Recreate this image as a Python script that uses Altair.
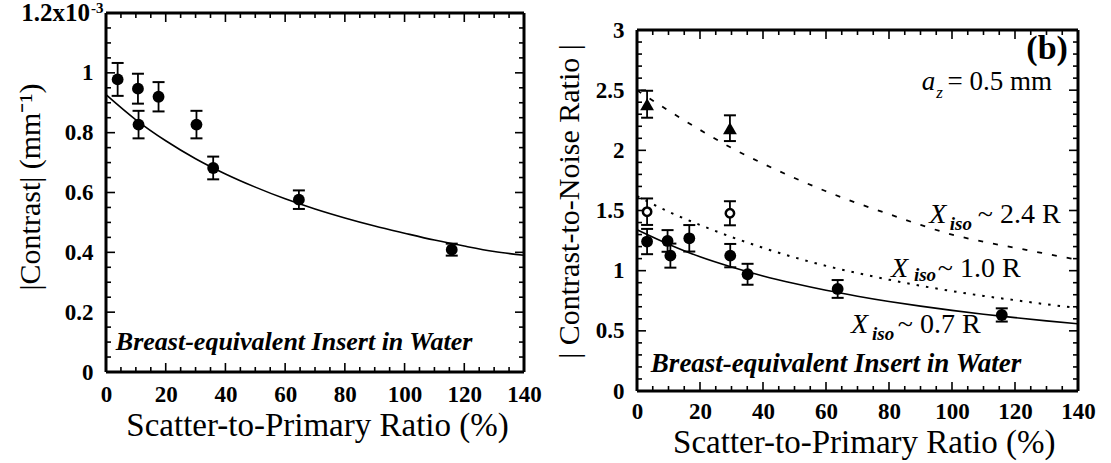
import altair as alt
import pandas as pd

FONT = "Liberation Serif"

# ---------------- panel (a): |Contrast| ----------------
a_spr = [3.9, 10.7, 10.9, 17.6, 30.3, 35.9, 64.6, 115.8]
a_con = [0.978, 0.947, 0.827, 0.920, 0.827, 0.682, 0.576, 0.409]
a_err = [0.055, 0.050, 0.046, 0.049, 0.046, 0.038, 0.031, 0.020]
fit_spr = [0, 10, 20, 30, 40, 50, 60, 70, 80, 90, 100, 110, 120, 130, 140]
a_fit = [0.927, 0.843, 0.773, 0.713, 0.662, 0.618, 0.579, 0.545, 0.515,
         0.488, 0.464, 0.441, 0.421, 0.403, 0.390]

# ---------------- panel (b): |CNR| ----------------
b07_spr = [3.2, 9.7, 10.6, 16.6, 29.6, 35.1, 63.7, 115.8]
b07_cnr = [1.242, 1.247, 1.125, 1.269, 1.125, 0.970, 0.848, 0.632]
b07_err = [0.105, 0.090, 0.100, 0.110, 0.097, 0.087, 0.074, 0.055]
b10_spr = [3.2, 29.5]
b10_cnr = [1.490, 1.477]
b10_err = [0.110, 0.100]
b24_spr = [3.2, 29.5]
b24_cnr = [2.383, 2.184]
b24_err = [0.112, 0.107]
b07_fit = [1.340, 1.220, 1.115, 1.030, 0.956, 0.893, 0.837, 0.788, 0.744,
           0.705, 0.670, 0.638, 0.610, 0.583, 0.558]
b10_fit = [1.620, 1.490, 1.380, 1.280, 1.190, 1.110, 1.040, 0.980, 0.925,
           0.875, 0.830, 0.790, 0.755, 0.720, 0.690]
b24_fit = [2.500, 2.330, 2.170, 2.020, 1.890, 1.770, 1.660, 1.560, 1.470,
           1.380, 1.300, 1.240, 1.190, 1.140, 1.090]

# ---------------- axes ----------------
x_dom = [0, 140]
x_major = [0, 20, 40, 60, 80, 100, 120, 140]
x_minor = [v for v in range(0, 141, 5) if v % 20]
a_ydom = [0, 1.2]
a_ymajor = [0, 0.2, 0.4, 0.6, 0.8, 1.0, 1.2]
a_ylabels = [0, 0.2, 0.4, 0.6, 0.8, 1.0]
a_yminor = [round(i * 0.05, 2) for i in range(25) if i % 4]
b_ydom = [0, 3]
b_ymajor = [0, 0.5, 1, 1.5, 2, 2.5, 3]
b_yminor = [round(i * 0.1, 1) for i in range(31) if i % 5]

A_W, A_H = 418, 359
B_W, B_H = 441, 378
B_YRANGE = [378, 17]


def make_x(title_x, title_y, label_pad):
    return alt.X(
        "x:Q",
        scale=alt.Scale(domain=x_dom, nice=False, zero=False),
        axis=alt.Axis(
            values=x_major, format="d", ticks=False, domain=False, grid=False,
            labelFont=FONT, labelFontSize=23, labelFontWeight="bold",
            labelColor="black", labelPadding=label_pad,
            labelBaseline="alphabetic", labelFlush=False, labelOverlap=False,
            title="Scatter-to-Primary Ratio (%)", titleFont=FONT,
            titleFontSize=33, titleFontWeight="normal", titleColor="black",
            titleX=title_x, titleY=title_y, titleBaseline="alphabetic",
            titleAlign="center",
        ),
    )


def make_y(dom, rng, labels, title, title_x, title_y):
    sc = alt.Scale(domain=dom, nice=False, zero=False) if rng is None else \
        alt.Scale(domain=dom, range=rng, nice=False, zero=False)
    return alt.Y(
        "y:Q",
        scale=sc,
        axis=alt.Axis(
            values=labels, format="~r", ticks=False, domain=False, grid=False,
            labelFont=FONT, labelFontSize=23, labelFontWeight="bold",
            labelColor="black", labelPadding=13, labelFlush=False,
            labelOverlap=False,
            title=title, titleFont=FONT, titleFontSize=30,
            titleFontWeight="normal", titleColor="black",
            titleX=title_x, titleY=title_y, titleBaseline="alphabetic",
            titleAlign="center", titleAngle=270,
        ),
    )


def frame_and_ticks(X, Y, ydom, xmaj, xmin, ymaj, ymin):
    layers = []
    fr = pd.DataFrame({
        "x": [x_dom[0], x_dom[0], x_dom[0], x_dom[1]],
        "x2": [x_dom[1], x_dom[1], x_dom[0], x_dom[1]],
        "y": [ydom[0], ydom[1], ydom[0], ydom[0]],
        "y2": [ydom[0], ydom[1], ydom[1], ydom[1]],
    })
    layers.append(alt.Chart(fr).mark_rule(color="black", strokeWidth=3).encode(
        x=X, x2=alt.X2("x2"), y=Y, y2=alt.Y2("y2")))
    for vals, L in ((xmaj, 9), (xmin, 5)):
        for yv, off in ((ydom[0], -L / 2), (ydom[1], L / 2)):
            df = pd.DataFrame({"x": vals, "y": [yv] * len(vals)})
            layers.append(alt.Chart(df).mark_tick(
                orient="vertical", size=L, thickness=1.6, yOffset=off,
                color="black", opacity=1).encode(x=X, y=Y))
    for vals, L in ((ymaj, 9), (ymin, 5)):
        for xv, off in ((x_dom[0], L / 2), (x_dom[1], -L / 2)):
            df = pd.DataFrame({"x": [xv] * len(vals), "y": vals})
            layers.append(alt.Chart(df).mark_tick(
                orient="horizontal", size=L, thickness=1.6, xOffset=off,
                color="black", opacity=1).encode(x=X, y=Y))
    return layers


def errorbars(X, Y, xs, ys, es):
    df = pd.DataFrame({"x": xs, "y": [a - e for a, e in zip(ys, es)],
                       "y2": [a + e for a, e in zip(ys, es)]})
    lo = pd.DataFrame({"x": xs, "y": df["y"]})
    hi = pd.DataFrame({"x": xs, "y": df["y2"]})
    out = [alt.Chart(df).mark_rule(color="black", strokeWidth=1.8).encode(
        x=X, y=Y, y2=alt.Y2("y2"))]
    for d in (lo, hi):
        out.append(alt.Chart(d).mark_tick(orient="horizontal", size=12,
                                          thickness=2, color="black",
                                          opacity=1).encode(x=X, y=Y))
    return out


def text(X, Y, t, x, y, size, style="normal", weight="normal", align="left",
         dx=0, dy=0):
    df = pd.DataFrame({"x": [x], "y": [y], "t": [t]})
    return alt.Chart(df).mark_text(
        font=FONT, fontSize=size, fontStyle=style, fontWeight=weight,
        align=align, baseline="alphabetic", color="black", dx=dx, dy=dy
    ).encode(x=X, y=Y, text="t:N")


# ---------------- left panel ----------------
XA = make_x(211, 63.5, 29.5)
YA = make_y(a_ydom, None, a_ylabels, "|Contrast| (mm\u207b\u00b9)", -67, 173.5)

la = frame_and_ticks(XA, YA, a_ydom, x_major, x_minor, a_ymajor, a_yminor)
la.append(alt.Chart(pd.DataFrame({"x": fit_spr, "y": a_fit})).mark_line(
    color="black", strokeWidth=1.6, interpolate="monotone").encode(x=XA, y=YA))
la += errorbars(XA, YA, a_spr, a_con, a_err)
la.append(alt.Chart(pd.DataFrame({"x": a_spr, "y": a_con})).mark_circle(
    color="black", opacity=1, size=140).encode(x=XA, y=YA))
la.append(text(XA, YA, "Breast-equivalent Insert in Water", 3.3, 0.075, 26,
               "italic", "bold"))
la.append(text(XA, YA, "1.2x10", 0, 1.2, 25, "normal", "bold", "right",
               dx=-16, dy=8))
la.append(text(XA, YA, "-3", 0, 1.2, 15, "normal", "bold", "left",
               dx=-15, dy=0))
left = alt.layer(*la).properties(width=A_W, height=A_H)

# ---------------- right panel ----------------
XB = make_x(226.8, 61.5, 27.5)
YB = make_y(b_ydom, B_YRANGE, b_ymajor, "| Contrast-to-Noise Ratio |", -59, 188)

lb = frame_and_ticks(XB, YB, b_ydom, x_major, x_minor, b_ymajor, b_yminor)
lb.append(alt.Chart(pd.DataFrame({"x": fit_spr, "y": b07_fit})).mark_line(
    color="black", strokeWidth=1.6, interpolate="monotone").encode(x=XB, y=YB))
lb.append(alt.Chart(pd.DataFrame({"x": fit_spr, "y": b10_fit})).mark_line(
    color="black", strokeWidth=2, strokeDash=[2.5, 7],
    interpolate="monotone").encode(x=XB, y=YB))
lb.append(alt.Chart(pd.DataFrame({"x": fit_spr, "y": b24_fit})).mark_line(
    color="black", strokeWidth=1.8, strokeDash=[5, 10],
    interpolate="monotone").encode(x=XB, y=YB))
lb += errorbars(XB, YB, b07_spr, b07_cnr, b07_err)
lb += errorbars(XB, YB, b10_spr, b10_cnr, b10_err)
lb += errorbars(XB, YB, b24_spr, b24_cnr, b24_err)
lb.append(alt.Chart(pd.DataFrame({"x": b07_spr, "y": b07_cnr})).mark_circle(
    color="black", opacity=1, size=140).encode(x=XB, y=YB))
lb.append(alt.Chart(pd.DataFrame({"x": b10_spr, "y": b10_cnr})).mark_point(
    shape="circle", filled=False, fill="white", fillOpacity=1, stroke="black",
    strokeWidth=2.5, opacity=1, size=70).encode(x=XB, y=YB))
lb.append(alt.Chart(pd.DataFrame({"x": b24_spr, "y": b24_cnr})).mark_point(
    shape="triangle-up", filled=True, color="black", opacity=1,
    size=190).encode(x=XB, y=YB))

lb.append(text(XB, YB, "Breast-equivalent Insert in Water", 4.4, 0.161, 27,
               "italic", "bold"))
lb.append(text(XB, YB, "(b)", 136.8, 2.76, 34, "normal", "bold", "right"))
lb.append(text(XB, YB, "a", 90.4, 2.504, 27, "italic"))
lb.append(text(XB, YB, "z", 95.0, 2.435, 17, "italic"))
lb.append(text(XB, YB, "= 0.5 mm", 98.6, 2.504, 27))

iso_labels = [("~ 2.4 R", 92.8, 99.3, 108.2, 1.394, 1.338),
              ("~ 1.0 R", 80.6, 87.9, 95.5, 0.951, 0.912),
              ("~ 0.7 R", 67.9, 74.6, 82.8, 0.480, 0.424)]
for t, xX, xi, xr, yb, ys in iso_labels:
    lb.append(text(XB, YB, "X", xX, yb, 28, "italic"))
    lb.append(text(XB, YB, "iso", xi, ys, 19, "italic", "bold"))
    lb.append(text(XB, YB, t, xr, yb, 28))

right = alt.layer(*lb).properties(width=B_W, height=B_H)

chart = alt.hconcat(left, right, spacing=113, bounds="flush").configure_view(
    stroke="transparent").properties(
    padding={"left": 14, "top": 0, "right": 5, "bottom": 5},
    background="white")

chart.save("out.html", embed_options={"renderer": "svg", "actions": False})
